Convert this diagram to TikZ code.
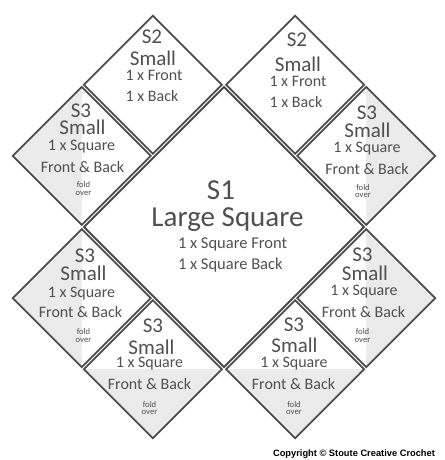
\documentclass[tikz,border=0pt]{standalone}
\usepackage{fontspec}
\setmainfont{Carlito}
\newfontfamily\cpfont{Liberation Sans}
\usetikzlibrary{shapes.geometric,backgrounds}
\definecolor{edge}{HTML}{4C4C4C}
\definecolor{txt}{HTML}{505050}
\definecolor{foldc}{HTML}{EBEBEB}
\tikzset{
  smalld/.style={draw=edge, line width=1.8pt, shape=diamond, aspect=1, inner sep=0pt, outer sep=0pt, minimum width=138pt, minimum height=138pt},
  bigd/.style={smalld, minimum width=280pt, minimum height=280pt},
  lbl/.style={text=txt, anchor=base, inner sep=0pt, outer sep=0pt, text depth=0pt},
  hA/.style={lbl, text height=13pt, font=\fontsize{21}{21}\selectfont},
  hB/.style={lbl, text height=10pt, font=\fontsize{16}{16}\selectfont},
  hC/.style={lbl, text height=5.5pt, font=\fontsize{8.6}{8.6}\selectfont},
  bigt/.style={lbl, text height=18.5pt, font=\fontsize{29}{29}\selectfont},
  midt/.style={lbl, text height=11pt, font=\fontsize{16.5}{16.5}\selectfont},
  cpt/.style={anchor=base, inner sep=0pt, text=black, font=\cpfont\bfseries\fontsize{9.3}{9.3}\selectfont}
}
\begin{document}
\begin{tikzpicture}[x=1pt,y=1pt]
\useasboundingbox (0,0) rectangle (444,460);
% diamonds
\node[bigd] (big) at (224,233) {};
\node[smalld] (ul2) at (152.9,375.2) {};
\node[smalld] (ur2) at (295.1,375.2) {};
\node[smalld] (ul3) at (81.8,304.1) {};
\node[smalld] (ur3) at (366.2,304.1) {};
\node[smalld] (ll3a) at (81.8,161.9) {};
\node[smalld] (ll3b) at (152.9,90.8) {};
\node[smalld] (lr3a) at (366.2,161.9) {};
\node[smalld] (lr3b) at (295.1,90.8) {};
\begin{scope}[on background layer]
  \fill[white] (0,0) rectangle (444,460);
  \fill[foldc] (ul3.west) -- (ul3.north) -- (ul3.south) -- cycle;
  \fill[foldc] (ll3a.west) -- (ll3a.north) -- (ll3a.south) -- cycle;
  \fill[foldc] (ur3.east) -- (ur3.north) -- (ur3.south) -- cycle;
  \fill[foldc] (lr3a.east) -- (lr3a.north) -- (lr3a.south) -- cycle;
  \fill[foldc] (ll3b.west) -- (ll3b.east) -- (ll3b.south) -- cycle;
  \fill[foldc] (lr3b.west) -- (lr3b.east) -- (lr3b.south) -- cycle;
\end{scope}
% S1
\node[bigt] (s1a) at (221,260) {S1};
\node[bigt] (s1b) at (227.5,233) {Large Square};
\node[midt, anchor=base west] (s1c) at (178,211) {1 x Square Front};
\node[midt, anchor=base west] (s1d) at (178,190) {1 x Square Back};
% upper-left S2
\node[hA] (ul2a) at (152,416) {S2};
\node[hA] (ul2b) at (153,394) {Small};
\node[hB] (ul2c) at (154,379) {1 x Front};
\node[hB] (ul2d) at (152,358) {1 x Back};
% upper-right S2
\node[hA] (ur2a) at (297,413) {S2};
\node[hA] (ur2b) at (298,388) {Small};
\node[hB] (ur2c) at (298,373) {1 x Front};
\node[hB] (ur2d) at (296,352) {1 x Back};
% upper-left S3
\node[hA] (ul3a) at (81,342.5) {S3};
\node[hA] (ul3b) at (82.5,325) {Small};
\node[hB] (ul3c) at (81.5,309) {1 x Square};
\node[hB] (ul3d) at (82.5,287) {Front \& Back};
\node[hC] (ul3e) at (83.5,272) {fold};
\node[hC] (ul3f) at (83.5,264.5) {over};
% upper-right S3
\node[hA] (ur3a) at (367,340.5) {S3};
\node[hA] (ur3b) at (367.5,322) {Small};
\node[hB] (ur3c) at (367,307) {1 x Square};
\node[hB] (ur3d) at (367,285) {Front \& Back};
\node[hC] (ur3e) at (363,269.5) {fold};
\node[hC] (ur3f) at (363,262) {over};
% lower-left S3 (upper)
\node[hA] (ll3aa) at (85,197.5) {S3};
\node[hA] (ll3ab) at (83.5,179) {Small};
\node[hB] (ll3ac) at (81.5,162) {1 x Square};
\node[hB] (ll3ad) at (80.5,142) {Front \& Back};
\node[hC] (ll3ae) at (83.5,125) {fold};
\node[hC] (ll3af) at (83.5,117.5) {over};
% lower-left S3 (lower)
\node[hA] (ll3ba) at (153,127) {S3};
\node[hA] (ll3bb) at (151.5,105.5) {Small};
\node[hB] (ll3bc) at (149.5,92) {1 x Square};
\node[hB] (ll3bd) at (149.5,70) {Front \& Back};
\node[hC] (ll3be) at (149.5,52.5) {fold};
\node[hC] (ll3bf) at (149.5,45) {over};
% lower-right S3 (upper)
\node[hA] (lr3aa) at (362.5,198.5) {S3};
\node[hA] (lr3ab) at (365,179.5) {Small};
\node[hB] (lr3ac) at (364,164) {1 x Square};
\node[hB] (lr3ad) at (363.5,142) {Front \& Back};
\node[hC] (lr3ae) at (362.5,125) {fold};
\node[hC] (lr3af) at (362.5,117.5) {over};
% lower-right S3 (lower)
\node[hA] (lr3ba) at (294,128) {S3};
\node[hA] (lr3bb) at (294.5,107.5) {Small};
\node[hB] (lr3bc) at (294,92) {1 x Square};
\node[hB] (lr3bd) at (293.5,70) {Front \& Back};
\node[hC] (lr3be) at (294,52.5) {fold};
\node[hC] (lr3bf) at (294,45) {over};
% copyright
\node[cpt] (copy) at (354,3) {Copyright © Stoute Creative Crochet};
\end{tikzpicture}
\end{document}
